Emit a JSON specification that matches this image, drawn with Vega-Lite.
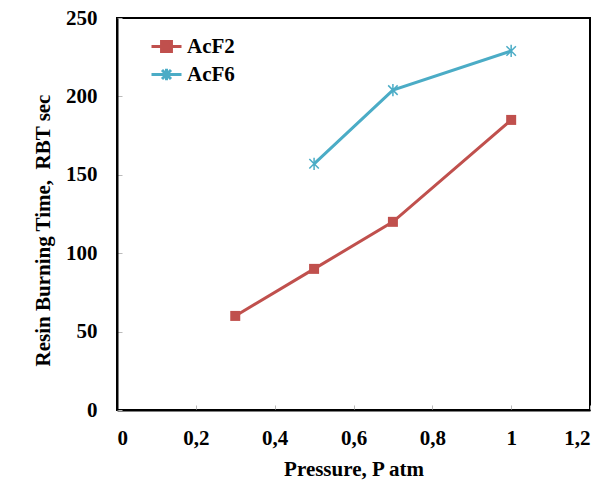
{
  "$schema": "https://vega.github.io/schema/vega-lite/v6.json",
  "width": 473,
  "height": 392,
  "autosize": "none",
  "padding": {"left": 117, "top": 18, "right": 13, "bottom": 73},
  "background": "white",
  "config": {
    "view": {"stroke": "black", "strokeWidth": 2},
    "font": "Liberation Serif",
    "axis": {
      "grid": false,
      "domainColor": "black",
      "domainWidth": 2,
      "tickColor": "#bbbbbb",
      "tickSize": -5,
      "labelFont": "Liberation Serif",
      "labelFontWeight": "bold",
      "labelFontSize": 21,
      "labelColor": "black",
      "titleFont": "Liberation Serif",
      "titleFontWeight": "bold",
      "titleFontSize": 21,
      "titleColor": "black"
    }
  },
  "data": {
    "values": [
      {"series": "AcF2", "p": 0.3, "t": 60},
      {"series": "AcF2", "p": 0.5, "t": 90},
      {"series": "AcF2", "p": 0.7, "t": 120},
      {"series": "AcF2", "p": 1.0, "t": 185},
      {"series": "AcF6", "p": 0.5, "t": 157},
      {"series": "AcF6", "p": 0.7, "t": 204},
      {"series": "AcF6", "p": 1.0, "t": 229}
    ]
  },
  "encoding": {
    "x": {
      "field": "p", "type": "quantitative",
      "scale": {"domain": [0, 1.2], "nice": false},
      "axis": {"values": [0, 0.2, 0.4, 0.6, 0.8, 1, 1.2], "labelExpr": "replace(format(datum.value, '~g'), '.', ',')", "labelPadding": 22, "title": "Pressure, P atm", "titlePadding": 10}
    },
    "y": {
      "field": "t", "type": "quantitative",
      "scale": {"domain": [0, 250], "nice": false},
      "axis": {"values": [0, 50, 100, 150, 200, 250], "labelPadding": 25, "title": "Resin Burning Time,\u00a0 RBT sec", "titleFontSize": 21, "titlePadding": 12, "titleY": 212}
    },
    "color": {
      "field": "series", "type": "nominal",
      "scale": {"domain": ["AcF2", "AcF6"], "range": ["#C0504D", "#4BACC6"]}
    }
  },
  "layer": [
    {
      "mark": {"type": "line", "strokeWidth": 3},
      "encoding": {
        "color": {
          "field": "series", "type": "nominal",
          "scale": {"domain": ["AcF2", "AcF6"], "range": ["#C0504D", "#4BACC6"]},
          "legend": {
            "orient": "none", "legendX": 33, "legendY": 12, "title": null,
            "symbolSize": 900, "rowPadding": 0, "labelOffset": 4,
            "labelFont": "Liberation Serif", "labelFontWeight": "bold", "labelFontSize": 21, "labelColor": "black",
            "symbolStrokeWidth": 3,
            "encode": {
              "symbols": {
                "update": {
                  "shape": {"signal": "datum.value === 'AcF2' ? 'M-1,0H1M-0.33,-0.33H0.33V0.33H-0.33Z' : 'M-1,0H1M-0.3,-0.3L0.3,0.3M-0.3,0.3L0.3,-0.3M0,-0.38V0.38'"},
                  "fill": {"signal": "datum.value === 'AcF2' ? '#C0504D' : 'transparent'"},
                  "stroke": {"signal": "datum.value === 'AcF2' ? '#C0504D' : '#4BACC6'"},
                  "strokeWidth": {"value": 3},
                  "opacity": {"value": 1}
                }
              }
            }
          }
        }
      }
    },
    {
      "transform": [{"filter": "datum.series === 'AcF2'"}],
      "mark": {"type": "point", "shape": "square", "filled": true, "size": 100, "opacity": 1}
    },
    {
      "transform": [{"filter": "datum.series === 'AcF6'"}],
      "mark": {"type": "point", "shape": "M-1,-1L1,1M-1,1L1,-1M0,-1.3V1.3", "filled": false, "size": 90, "strokeWidth": 1.5, "opacity": 1}
    }
  ]
}
